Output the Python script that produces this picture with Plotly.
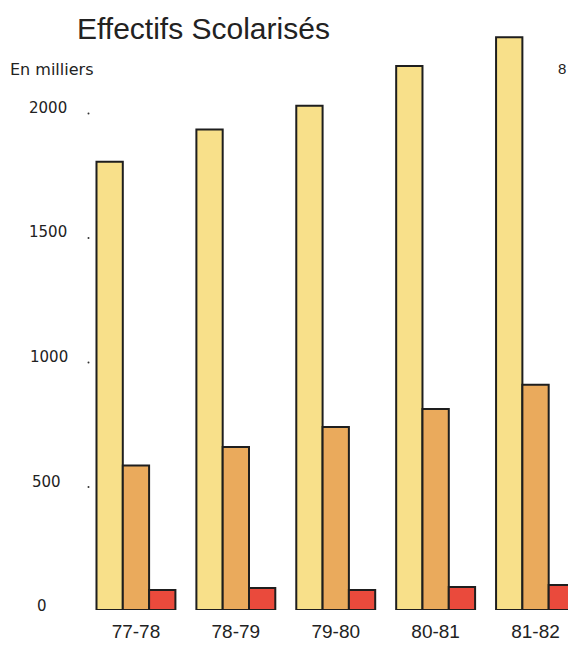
import plotly.graph_objects as go

# ---- data ----
years = ["77-78", "78-79", "79-80", "80-81", "81-82"]
serie_jaune = [1800, 1930, 2025, 2185, 2300]
serie_orange = [580, 655, 735, 807, 905]
serie_rouge = [80, 88, 80, 92, 100]
tick_values = [0, 500, 1000, 1500, 2000]
tick_labels = ["0", "500", "1000", "1500", "2000"]

# ---- layout constants (pixels) ----
W, H = 568, 646
L, R, T, B = 85.5, 0, 10, 36
plot_w = W - L - R
plot_h = H - T - B
units_per_px = 4.016
y_max = plot_h * units_per_px

def px_to_paper_x(px):
    return (px - L) / plot_w

def px_to_paper_y(py):
    return (H - B - py) / plot_h

line = dict(color="#1e1e1e", width=2)
fig = go.Figure()
fig.add_trace(go.Bar(x=years, y=serie_jaune, marker=dict(color="#f8e08a", line=line), name="a"))
fig.add_trace(go.Bar(x=years, y=serie_orange, marker=dict(color="#eaaa5c", line=line), name="b"))
fig.add_trace(go.Bar(x=years, y=serie_rouge, marker=dict(color="#ea4a3c", line=line), name="c"))

label_left = [34, 29, 27, 26, 26]
annotations = []
shapes = []
for v, t, lx in zip(tick_values, tick_labels, label_left):
    annotations.append(dict(
        x=px_to_paper_x(lx), xref="paper", y=v, yref="y", text=t,
        showarrow=False, xanchor="left", yanchor="middle", yshift=4,
        font=dict(family="DejaVu Sans", size=15, color="#222")))
    shapes.append(dict(
        type="circle", xref="paper", yref="y", xsizemode="pixel", ysizemode="pixel",
        xanchor=px_to_paper_x(88), yanchor=v, x0=-1, x1=1, y0=-2.5, y1=-0.5,
        fillcolor="#333", line=dict(width=0)))

annotations.append(dict(
    x=px_to_paper_x(74), xref="paper", y=px_to_paper_y(28), yref="paper",
    text="Effectifs Scolarisés", showarrow=False, xanchor="left", yanchor="middle",
    font=dict(family="Liberation Sans", size=30, color="#222")))
annotations.append(dict(
    x=px_to_paper_x(7), xref="paper", y=px_to_paper_y(69), yref="paper",
    text="En milliers", showarrow=False, xanchor="left", yanchor="middle",
    font=dict(family="DejaVu Sans", size=16, color="#222")))
annotations.append(dict(
    x=px_to_paper_x(556), xref="paper", y=px_to_paper_y(68), yref="paper",
    text="8", showarrow=False, xanchor="left", yanchor="middle",
    font=dict(family="Liberation Sans", size=15, color="#222")))

fig.update_layout(
    width=W, height=H,
    margin=dict(l=L, r=R, t=T, b=B),
    paper_bgcolor="white", plot_bgcolor="white",
    barmode="group", bargap=0.21, bargroupgap=0,
    showlegend=False,
    annotations=annotations, shapes=shapes,
    xaxis=dict(range=[-0.5, 4.325], showgrid=False, zeroline=False, showline=False,
               ticks="", ticklabelstandoff=8,
               tickfont=dict(family="Liberation Sans", size=19, color="#222")),
    yaxis=dict(range=[0, y_max], showgrid=False, zeroline=False, showline=False,
               showticklabels=False, ticks=""),
)

fig.write_html("out.html", config={"displayModeBar": False},
               post_script="document.body.style.margin='0px';document.body.style.overflow='hidden';")
